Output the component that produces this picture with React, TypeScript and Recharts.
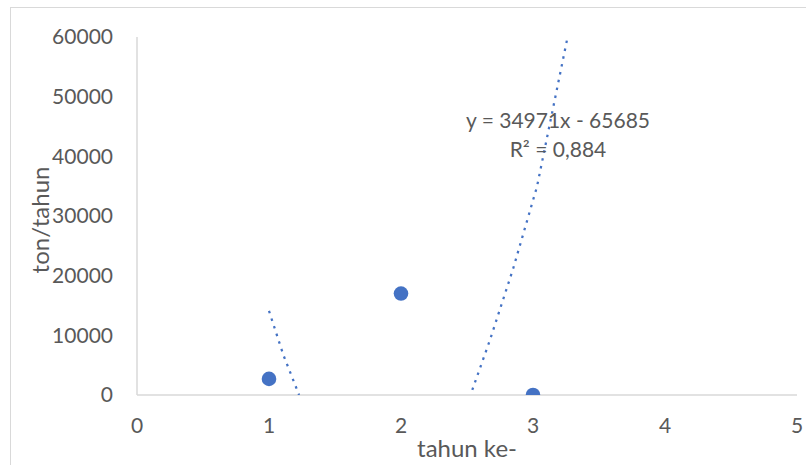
import React from 'react';
import { ComposedChart, Scatter, XAxis, YAxis, Label } from 'recharts';

// observed points (tahun ke-, ton/tahun)
const years = [1, 2, 3];
const tonnes = [2700, 17000, 0];

// dotted trendline in two visible pieces
const trendLeftX = [1, 1.109, 1.228];
const trendLeftY = [14100, 6700, 0];
const trendRightX = [2.54, 2.674, 2.85, 3.03, 3.154, 3.262];
const trendRightY = [840, 9220, 21200, 34900, 48300, 60000];

const xTicks = [0, 1, 2, 3, 4, 5];
const yTicks = [0, 10000, 20000, 30000, 40000, 50000, 60000];

const equation = 'y = 34971x - 65685';
const rSquared = 'R² = 0,884';

const points = years.map((x, i) => ({ x, y: tonnes[i] }));
const trendLeft = trendLeftX.map((x, i) => ({ x, y: trendLeftY[i] }));
const trendRight = trendRightX.map((x, i) => ({ x, y: trendRightY[i] }));

const BLUE = '#4472C4';
const TEXT = '#595959';
const FONT = 'Lato, "Open Sans", sans-serif';

const noShape = () => <g />;

export default function App() {
  return (
    <div style={{ position: 'absolute', left: 0, top: 0, width: 806, height: 465, overflow: 'hidden', background: '#fff', fontFamily: FONT }}>
      <div style={{ position: 'absolute', left: 10, top: 7, width: 820, height: 480, border: '1px solid #d9d9d9' }} />
      <ComposedChart width={806} height={465} margin={{ top: 37, right: 9, bottom: 0, left: 0 }}>
        <XAxis
          type="number"
          dataKey="x"
          domain={[0, 5]}
          ticks={xTicks}
          height={70}
          tickLine={false}
          tickMargin={17}
          fontSize={21}
          axisLine={{ stroke: '#d9d9d9', strokeWidth: 1.5 }}
          tick={{ fill: TEXT, fontSize: 21, fontFamily: FONT }}
        >
          <Label value="tahun ke-" position="insideBottom" offset={8} fill={TEXT} fontSize={24} fontFamily={FONT} />
        </XAxis>
        <YAxis
          type="number"
          dataKey="y"
          domain={[0, 60000]}
          ticks={yTicks}
          width={137}
          tickLine={false}
          tickMargin={18}
          fontSize={21}
          axisLine={{ stroke: '#d9d9d9', strokeWidth: 1.5 }}
          tick={{ fill: TEXT, fontSize: 21, fontFamily: FONT }}
          allowDataOverflow
        >
          <Label
            content={() => (
              <text x={49} y={220} transform="rotate(-90, 49, 220)" textAnchor="middle" fill={TEXT} fontSize={24} fontFamily={FONT}>
                ton/tahun
              </text>
            )}
          />
        </YAxis>
        <Scatter
          data={trendLeft}
          line={{ stroke: BLUE, strokeWidth: 2.25, strokeDasharray: '2.5 5.5' }}
          lineType="joint"
          shape={noShape}
          isAnimationActive={false}
        />
        <Scatter
          data={trendRight}
          line={{ stroke: BLUE, strokeWidth: 2.25, strokeDasharray: '2.5 5.5' }}
          lineType="joint"
          shape={noShape}
          isAnimationActive={false}
        />
        <Scatter
          data={points}
          fill={BLUE}
          shape={(p: any) => <circle cx={p.cx} cy={p.cy} r={7.3} fill={BLUE} />}
          isAnimationActive={false}
        />
      </ComposedChart>
      <div style={{ position: 'absolute', left: 458, top: 105, width: 200, textAlign: 'center', color: TEXT, fontSize: 21, lineHeight: '29px' }}>
        <div>{equation}</div>
        <div>{rSquared}</div>
      </div>
    </div>
  );
}
